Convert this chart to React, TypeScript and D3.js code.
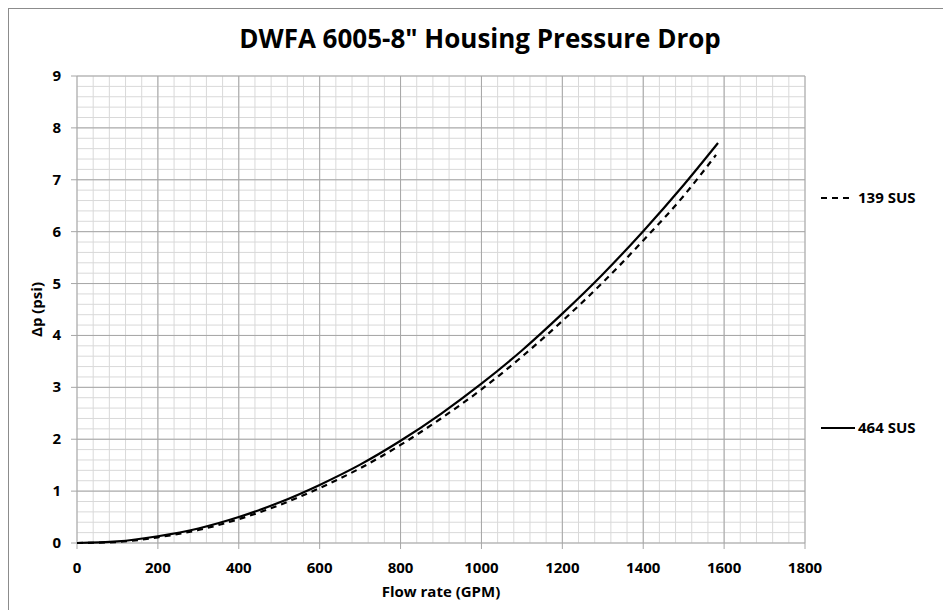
import React from "react";
import * as d3 from "d3";

const flow464: number[] = [0, 100, 200, 300, 400, 500, 600, 700, 800, 900, 1000, 1100, 1200, 1300, 1400, 1500, 1585];
const dp464: number[] = [0, 0.03, 0.13, 0.28, 0.5, 0.78, 1.12, 1.51, 1.97, 2.49, 3.07, 3.71, 4.42, 5.18, 6.01, 6.9, 7.71];
const flow139: number[] = [0, 100, 200, 300, 400, 500, 600, 700, 800, 900, 1000, 1100, 1200, 1300, 1400, 1500, 1580];
const dp139: number[] = [0, 0.02, 0.11, 0.25, 0.46, 0.73, 1.06, 1.44, 1.89, 2.4, 2.96, 3.59, 4.28, 5.02, 5.83, 6.69, 7.48];
const xTicks: number[] = [0, 200, 400, 600, 800, 1000, 1200, 1400, 1600, 1800];
const yTicks: number[] = [0, 1, 2, 3, 4, 5, 6, 7, 8, 9];
const seriesNames: string[] = ["139 SUS", "464 SUS"];
const title = 'DWFA 6005-8" Housing Pressure Drop';
const xTitle = "Flow rate (GPM)";
const yTitle = "Δp (psi)";

export default function App() {
  const W = 943, H = 610;
  const x = d3.scaleLinear().domain([0, 1800]).range([77, 805]);
  const y = d3.scaleLinear().domain([0, 9]).range([543, 76]);
  const minorX = d3.range(0, 1800.01, 40);
  const minorY = d3.range(0, 9.001, 0.2);
  const line = d3.line<[number, number]>().x(d => x(d[0])).y(d => y(d[1])).curve(d3.curveMonotoneX);
  const p464 = line(flow464.map((f, i) => [f, dp464[i]] as [number, number])) || "";
  const p139 = line(flow139.map((f, i) => [f, dp139[i]] as [number, number])) || "";
  const font = "'Open Sans', 'Noto Sans', sans-serif";
  return (
    <svg width={W} height={H} style={{ position: "absolute", left: 0, top: 0, background: "#fff" }} fontFamily={font}>
      <rect x={8.5} y={8.5} width={W} height={H} fill="#fff" stroke="#8c8c8c" strokeWidth={1} />
      <text x={480} y={48} textAnchor="middle" fontSize={26} fontWeight="bold" fill="#000">{title}</text>
      {minorX.map((v, i) => (
        <line key={"mx" + i} x1={x(v)} x2={x(v)} y1={y(0)} y2={y(9)} stroke="#d9d9d9" strokeWidth={1} />
      ))}
      {minorY.map((v, i) => (
        <line key={"my" + i} x1={x(0)} x2={x(1800)} y1={y(v)} y2={y(v)} stroke="#d9d9d9" strokeWidth={1} />
      ))}
      {xTicks.map(v => (
        <line key={"Mx" + v} x1={x(v)} x2={x(v)} y1={y(0) + 6} y2={y(9)} stroke="#a6a6a6" strokeWidth={1} />
      ))}
      {yTicks.map(v => (
        <line key={"My" + v} x1={x(0) - 6} x2={x(1800)} y1={y(v)} y2={y(v)} stroke="#a6a6a6" strokeWidth={1} />
      ))}
      {xTicks.map(v => (
        <text key={"xt" + v} x={x(v)} y={573} textAnchor="middle" fontSize={15} fontWeight="bold" fill="#000">{v}</text>
      ))}
      {yTicks.map(v => (
        <text key={"yt" + v} x={61} y={y(v) + 5} textAnchor="end" fontSize={15} fontWeight="bold" fill="#000">{v}</text>
      ))}
      <text x={441} y={597} textAnchor="middle" fontSize={15} fontWeight="bold" fill="#000">{xTitle}</text>
      <text transform={`translate(42,${(y(0) + y(9)) / 2}) rotate(-90)`} textAnchor="middle" fontSize={15} fontWeight="bold" fill="#000">{yTitle}</text>
      <path d={p139} fill="none" stroke="#000" strokeWidth={2.2} strokeDasharray="6,5" />
      <path d={p464} fill="none" stroke="#000" strokeWidth={2.2} />
      <line x1={821} x2={849} y1={198} y2={198} stroke="#000" strokeWidth={2.2} strokeDasharray="6,5" />
      <text x={858} y={203} fontSize={15} fontWeight="bold" fill="#000">{seriesNames[0]}</text>
      <line x1={821} x2={855} y1={428} y2={428} stroke="#000" strokeWidth={2.2} />
      <text x={858} y={433} fontSize={15} fontWeight="bold" fill="#000">{seriesNames[1]}</text>
    </svg>
  );
}
